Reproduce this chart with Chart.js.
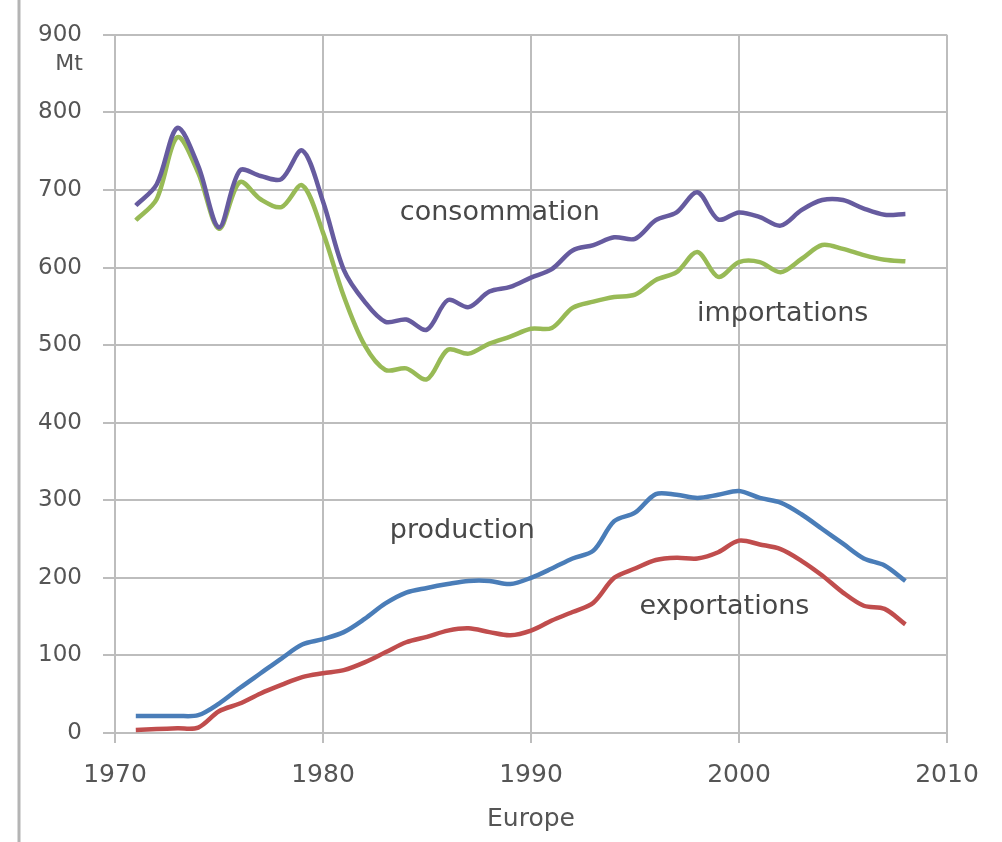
<!DOCTYPE html>
<html lang="fr">
<head>
  <meta charset="UTF-8">
  <title>Europe - pétrole (Mt)</title>
  <script src="https://cdn.jsdelivr.net/npm/chart.js"></script>
  <style>
    html, body {
      margin: 0;
      padding: 0;
      background: #fff;
    }
    .chart-container {
      width: 1002px;
      height: 842px;
      position: relative;
    }
  </style>
</head>
<body>
  <div class="chart-container">
    <canvas id="oilChart"></canvas>
  </div>

  <script>
    const years = [1971, 1972, 1973, 1974, 1975, 1976, 1977, 1978, 1979, 1980,
                   1981, 1982, 1983, 1984, 1985, 1986, 1987, 1988, 1989, 1990,
                   1991, 1992, 1993, 1994, 1995, 1996, 1997, 1998, 1999, 2000,
                   2001, 2002, 2003, 2004, 2005, 2006, 2007, 2008];

    const consommation = [680, 707, 780, 731, 652, 725, 718, 714, 751, 685,
                          597, 556, 530, 533, 520, 558, 549, 569, 575, 587,
                          598, 622, 629, 639, 637, 661, 671, 697, 662, 671,
                          665, 654, 674, 687, 687, 676, 668, 669];

    const importations = [661, 688, 768, 722, 650, 710, 688, 678, 706, 645,
                          563, 500, 468, 470, 456, 494, 489, 502, 511, 521,
                          522, 548, 556, 562, 565, 584, 594, 620, 588, 607,
                          607, 594, 611, 629, 624, 616, 610, 608];

    const production = [22, 22, 22, 23, 38, 58, 77, 96, 114, 121,
                        130, 147, 167, 181, 187, 192, 196, 196, 192, 200,
                        212, 225, 235, 273, 284, 308, 307, 303, 307, 312,
                        303, 297, 282, 263, 244, 225, 216, 196];

    const exportations = [4, 5, 6, 7, 28, 38, 51, 62, 72, 77,
                          81, 91, 104, 117, 124, 132, 135, 130, 126, 132,
                          145, 156, 168, 200, 212, 223, 226, 225, 233, 248,
                          243, 237, 222, 203, 181, 164, 160, 140];

    const xTicks = [1970, 1980, 1990, 2000, 2010];
    const yTicks = [0, 100, 200, 300, 400, 500, 600, 700, 800, 900];

    // text placed inside the plot, in data units
    const seriesLabels = [
      { text: 'consommation', x: 1988.5, y: 670 },
      { text: 'importations', x: 2002.1, y: 540 },
      { text: 'production',   x: 1986.7, y: 260 },
      { text: 'exportations', x: 1999.3, y: 162 }
    ];

    const toPoints = values => years.map((yr, i) => ({ x: yr, y: values[i] }));

    const gridColor = '#bdbdbd';
    const textColor = '#555555';
    const font = 'DejaVu Sans';

    const annotations = {
      id: 'annotations',
      beforeDraw(chart) {
        const ctx = chart.ctx;
        ctx.save();
        ctx.strokeStyle = '#b4b4b4';
        ctx.lineWidth = 3;
        ctx.beginPath();
        ctx.moveTo(19, 0);
        ctx.lineTo(19, chart.height);
        ctx.stroke();
        ctx.restore();
      },
      afterDatasetsDraw(chart) {
        const ctx = chart.ctx;
        const xs = chart.scales.x;
        const ys = chart.scales.y;
        ctx.save();
        ctx.fillStyle = '#484848';
        ctx.textAlign = 'center';
        ctx.textBaseline = 'middle';
        ctx.font = `27px "${font}"`;
        seriesLabels.forEach(l => {
          ctx.fillText(l.text, xs.getPixelForValue(l.x), ys.getPixelForValue(l.y));
        });
        ctx.fillStyle = textColor;
        ctx.font = `22px "${font}"`;
        ctx.fillText('Mt', 69, 64);
        ctx.font = `25px "${font}"`;
        ctx.fillText('Europe', (xs.left + xs.right) / 2, 819);
        ctx.restore();
      }
    };

    const config = {
      type: 'line',
      data: {
        datasets: [
          {
            label: 'consommation',
            data: toPoints(consommation),
            borderColor: '#665b9f'
          },
          {
            label: 'importations',
            data: toPoints(importations),
            borderColor: '#98ba56'
          },
          {
            label: 'production',
            data: toPoints(production),
            borderColor: '#4a7db8'
          },
          {
            label: 'exportations',
            data: toPoints(exportations),
            borderColor: '#c04d4d'
          }
        ]
      },
      options: {
        responsive: true,
        maintainAspectRatio: false,
        animation: false,
        layout: {
          padding: { top: 32, right: 55, left: 0, bottom: 0 }
        },
        elements: {
          line: { borderWidth: 4.5, tension: 0.32, fill: false },
          point: { radius: 0 }
        },
        plugins: {
          legend: { display: false },
          tooltip: { enabled: false }
        },
        scales: {
          x: {
            type: 'linear',
            min: 1970,
            max: 2010,
            afterBuildTicks: scale => {
              scale.ticks = xTicks.map(v => ({ value: v }));
            },
            afterFit: scale => { scale.height = 109; },
            ticks: {
              callback: v => String(v),
              color: textColor,
              padding: 17,
              maxRotation: 0,
              font: { family: font, size: 25 }
            },
            grid: { color: gridColor, lineWidth: 2, tickLength: 10 },
            border: { color: gridColor, width: 2 }
          },
          y: {
            min: 0,
            max: 900,
            afterBuildTicks: scale => {
              scale.ticks = yTicks.map(v => ({ value: v }));
            },
            afterFit: scale => { scale.width = 115; },
            ticks: {
              color: textColor,
              padding: 21,
              font: { family: font, size: 23 }
            },
            grid: { color: gridColor, lineWidth: 2, tickLength: 12 },
            border: { color: gridColor, width: 2 }
          }
        }
      },
      plugins: [annotations]
    };

    new Chart(document.getElementById('oilChart'), config);
  </script>
</body>
</html>
